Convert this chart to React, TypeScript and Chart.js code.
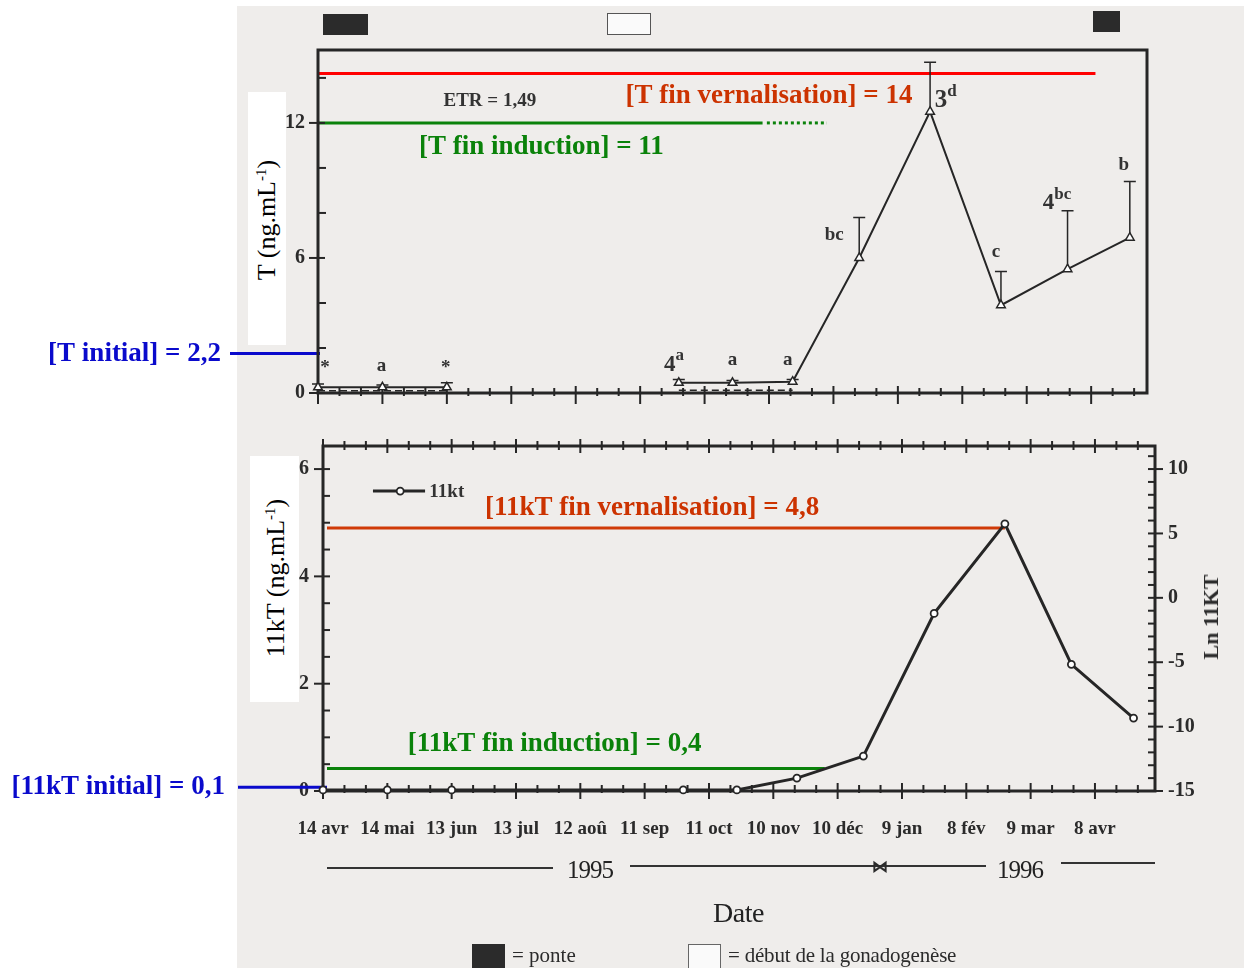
import React, { useEffect, useRef } from 'react';
import { Chart, registerables } from 'chart.js';

Chart.register(...registerables);

// ---------- data ----------
// sampling dates, in days after 14 avr 1995
const SAMPLE_DAYS = [0, 30, 60, 168, 193, 221, 252, 285, 318, 349, 378];
// testosterone, ng/mL (mean) and upper error
const T_MEAN = [0.25, 0.25, 0.25, 0.45, 0.45, 0.5, 6.0, 12.5, 3.9, 5.5, 6.9];
const T_ERR = [0.15, 0.1, 0.2, 0.15, 0.1, 0.1, 1.8, 2.2, 1.5, 2.6, 2.5];
const T_SECOND = [0.1, 0.1, 0.1, 0.12, 0.12, 0.12, null, null, null, null, null];
const T_LETTERS = ['*', 'a', '*', '4|a', 'a', 'a', 'bc', '3|d', 'c', '4|bc', 'b'];
// 11-ketotestosterone, ng/mL
const KT_VALUES = [0.02, 0.02, 0.02, 0.02, 0.02, 0.24, 0.65, 3.31, 4.98, 2.36, 1.36];

const MONTH_LABELS = ['14 avr', '14 mai', '13 jun', '13 jul', '12 aoû', '11 sep', '11 oct', '10 nov', '10 déc', '9 jan', '8 fév', '9 mar', '8 avr'];
const MONTH_STEP = 30;
const T_TICKS = [0, 6, 12];
const KT_TICKS = [0, 2, 4, 6];
const LN_TICKS = [-15, -10, -5, 0, 5, 10];

// reference lines (as drawn) and their labels
const T_REF_VALUES = { vern: 14.2, induc: 12, initial: 1.75 };
const T_REF_TEXT = { vern: '[T fin vernalisation] = 14', induc: '[T fin induction] = 11', initial: '[T initial] = 2,2', etr: 'ETR = 1,49' };
const KT_REF_VALUES = { vern: 4.9, induc: 0.42, initial: 0.07 };
const KT_REF_TEXT = { vern: '[11kT fin vernalisation] = 4,8', induc: '[11kT fin induction] = 0,4', initial: '[11kT initial] = 0,1' };

// ---------- styles ----------
const INK = '#262626';
const RED = '#ff0000';
const ORANGE = '#cc3300';
const ORANGE_LINE = '#d03a08';
const GREEN = '#0a820a';
const BLUE = '#0a0acc';
const SERIF = '"Liberation Serif", "Times New Roman", serif';
const NOTE_FONT = `bold 27px ${SERIF}`;
const LETTER_OFFSETS = [[7, -19], [-1, -21], [-1, -19], [-9, -20], [0, -23], [-5, -22], [-25, -23], [11, -13], [-5, -53], [-19, -68], [-6, -73]];

function range(a: number, b: number, s: number) {
  const out: number[] = [];
  for (let v = a; v <= b + 1e-9; v += s) out.push(Math.round(v * 1000) / 1000);
  return out;
}

function ticks(ctx: CanvasRenderingContext2D, scale: any, values: number[], horizontal: boolean, base: number, from: number, to: number) {
  values.forEach((v) => {
    const p = scale.getPixelForValue(v);
    ctx.beginPath();
    if (horizontal) {
      ctx.moveTo(p, base + from);
      ctx.lineTo(p, base + to);
    } else {
      ctx.moveTo(base + from, p);
      ctx.lineTo(base + to, p);
    }
    ctx.stroke();
  });
}

function hline(ctx: CanvasRenderingContext2D, x1: number, x2: number, y: number, color: string, w: number, dash: number[] = []) {
  ctx.save();
  ctx.strokeStyle = color;
  ctx.lineWidth = w;
  ctx.setLineDash(dash);
  ctx.beginPath();
  ctx.moveTo(x1, y);
  ctx.lineTo(x2, y);
  ctx.stroke();
  ctx.restore();
}

function text(ctx: CanvasRenderingContext2D, s: string, x: number, y: number, font: string, color: string, align: CanvasTextAlign = 'center') {
  ctx.save();
  ctx.font = font;
  ctx.fillStyle = color;
  ctx.textAlign = align;
  ctx.textBaseline = 'middle';
  ctx.fillText(s, x, y);
  ctx.restore();
}

const topPlugin = {
  id: 'topDecor',
  beforeDatasetsDraw(chart: any) {
    const { ctx, chartArea: ca, scales } = chart;
    const x = scales.x, y = scales.y;
    // reference lines
    hline(ctx, ca.left, x.getPixelForValue(362), y.getPixelForValue(T_REF_VALUES.vern), RED, 3);
    hline(ctx, ca.left, x.getPixelForValue(207), y.getPixelForValue(T_REF_VALUES.induc), GREEN, 3);
    hline(ctx, x.getPixelForValue(209), x.getPixelForValue(237), y.getPixelForValue(T_REF_VALUES.induc), GREEN, 3, [3, 3]);
    hline(ctx, ca.left - 88, ca.left + 2, y.getPixelForValue(T_REF_VALUES.initial), BLUE, 3);
    // frame
    ctx.save();
    ctx.strokeStyle = INK;
    ctx.lineWidth = 3;
    ctx.strokeRect(ca.left, ca.top, ca.right - ca.left, ca.bottom - ca.top);
    ctx.lineWidth = 2;
    const xMajor = range(0, 360, MONTH_STEP);
    const xMinor = range(0, 386, 10).filter((v) => v % MONTH_STEP !== 0);
    ticks(ctx, x, xMajor, true, ca.bottom, -7, 11);
    ticks(ctx, x, xMinor, true, ca.bottom, -5, 3);
    const yAll = range(0, 14, 2);
    ticks(ctx, y, yAll.filter((v) => T_TICKS.includes(v)), false, ca.left, -9, 7);
    ticks(ctx, y, yAll.filter((v) => !T_TICKS.includes(v)), false, ca.left, 0, 8);
    // error bars
    ctx.lineWidth = 1.5;
    SAMPLE_DAYS.forEach((d, i) => {
      const px = x.getPixelForValue(d);
      const y0 = y.getPixelForValue(T_MEAN[i]);
      const y1 = y.getPixelForValue(T_MEAN[i] + T_ERR[i]);
      ctx.beginPath();
      ctx.moveTo(px, y0);
      ctx.lineTo(px, y1);
      ctx.moveTo(px - 6, y1);
      ctx.lineTo(px + 6, y1);
      ctx.stroke();
    });
    ctx.restore();
  },
  afterDatasetsDraw(chart: any) {
    const { ctx, chartArea: ca, scales } = chart;
    const x = scales.x, y = scales.y;
    text(ctx, T_REF_TEXT.etr, x.getPixelForValue(80), y.getPixelForValue(12.95), `bold 19px ${SERIF}`, '#333');
    text(ctx, T_REF_TEXT.vern, x.getPixelForValue(210), y.getPixelForValue(13.2), NOTE_FONT, ORANGE);
    text(ctx, T_REF_TEXT.induc, x.getPixelForValue(104), y.getPixelForValue(10.94), NOTE_FONT, GREEN);
    text(ctx, T_REF_TEXT.initial, ca.left - 97, y.getPixelForValue(T_REF_VALUES.initial), NOTE_FONT, BLUE, 'right');
    // significance letters
    SAMPLE_DAYS.forEach((d, i) => {
      const [dx, dy] = LETTER_OFFSETS[i];
      const px = x.getPixelForValue(d) + dx;
      const py = y.getPixelForValue(T_MEAN[i]) + dy;
      const parts = T_LETTERS[i].split('|');
      if (parts.length === 1) {
        text(ctx, parts[0], px, py, `bold 19px ${SERIF}`, '#333');
      } else {
        const big = parts[0] === '3' ? 25 : 23;
        ctx.save();
        ctx.font = `bold ${big}px ${SERIF}`;
        const w = ctx.measureText(parts[0]).width;
        ctx.restore();
        text(ctx, parts[0], px, py + 2, `bold ${big}px ${SERIF}`, '#333');
        text(ctx, parts[1], px + w / 2, py - 7, `bold 17px ${SERIF}`, '#333', 'left');
      }
    });
  },
};

const botPlugin = {
  id: 'botDecor',
  beforeDatasetsDraw(chart: any) {
    const { ctx, chartArea: ca, scales } = chart;
    const x = scales.x, y = scales.y, y2 = scales.y2;
    hline(ctx, ca.left + 4, x.getPixelForValue(318), y.getPixelForValue(KT_REF_VALUES.vern), ORANGE_LINE, 3);
    hline(ctx, ca.left + 4, x.getPixelForValue(234), y.getPixelForValue(KT_REF_VALUES.induc), GREEN, 3);
    hline(ctx, ca.left - 85, ca.left + 4, y.getPixelForValue(KT_REF_VALUES.initial), BLUE, 3);
    ctx.save();
    ctx.strokeStyle = INK;
    ctx.lineWidth = 3;
    ctx.strokeRect(ca.left, ca.top, ca.right - ca.left, ca.bottom - ca.top);
    ctx.lineWidth = 2;
    const xMajor = range(0, 360, MONTH_STEP);
    const xMinor = range(0, 388, 10).filter((v) => v % MONTH_STEP !== 0);
    ticks(ctx, x, xMajor, true, ca.bottom, -8, 8);
    ticks(ctx, x, xMinor, true, ca.bottom, -6, 2);
    ticks(ctx, x, xMajor, true, ca.top, -7, 7);
    ticks(ctx, x, xMinor, true, ca.top, -5, 4);
    const yAll = range(0, 6, 0.5);
    ticks(ctx, y, yAll.filter((v) => KT_TICKS.includes(v)), false, ca.left, -9, 7);
    ticks(ctx, y, yAll.filter((v) => !KT_TICKS.includes(v)), false, ca.left, -1, 7);
    const lnAll = range(-15, 11, 1);
    ticks(ctx, y2, lnAll.filter((v) => v % 5 === 0), false, ca.right, -7, 8);
    ticks(ctx, y2, lnAll.filter((v) => v % 5 !== 0), false, ca.right, -7, 1);
    ctx.restore();
  },
  afterDatasetsDraw(chart: any) {
    const { ctx, chartArea: ca, scales } = chart;
    const x = scales.x, y = scales.y;
    text(ctx, KT_REF_TEXT.vern, x.getPixelForValue(153.5), y.getPixelForValue(5.28), NOTE_FONT, ORANGE);
    text(ctx, KT_REF_TEXT.induc, x.getPixelForValue(108), y.getPixelForValue(0.87), NOTE_FONT, GREEN);
    text(ctx, KT_REF_TEXT.initial, ca.left - 98, y.getPixelForValue(KT_REF_VALUES.initial), NOTE_FONT, BLUE, 'right');
    // legend
    const ly = y.getPixelForValue(5.59);
    hline(ctx, x.getPixelForValue(23.3), x.getPixelForValue(47.6), ly, INK, 3);
    ctx.save();
    ctx.beginPath();
    ctx.arc(x.getPixelForValue(36), ly, 3.5, 0, Math.PI * 2);
    ctx.fillStyle = '#fff';
    ctx.fill();
    ctx.strokeStyle = INK;
    ctx.lineWidth = 1.8;
    ctx.stroke();
    ctx.restore();
    text(ctx, '11kt', x.getPixelForValue(49.6), ly + 1, `bold 19px ${SERIF}`, '#333', 'left');
  },
};

function fixedWidth(w: number) {
  return (scale: any) => {
    scale.width = w;
  };
}
function fixedHeight(h: number) {
  return (scale: any) => {
    scale.height = h;
  };
}

const TICK_FONT = { family: SERIF, size: 20, weight: 'bold' as const };

export default function App() {
  const topRef = useRef<HTMLCanvasElement>(null);
  const botRef = useRef<HTMLCanvasElement>(null);

  useEffect(() => {
    document.body.style.margin = '0';
    document.body.style.overflow = 'hidden';
    const tPoints = SAMPLE_DAYS.map((d, i) => ({ x: d, y: T_MEAN[i] }));
    const tSecond = SAMPLE_DAYS.map((d, i) => ({ x: d, y: T_SECOND[i] }));
    const kPoints = SAMPLE_DAYS.map((d, i) => ({ x: d, y: KT_VALUES[i] }));

    const top = new Chart(topRef.current!, {
      type: 'line',
      data: {
        datasets: [
          {
            data: tSecond as any,
            borderColor: INK,
            borderWidth: 1.5,
            borderDash: [7, 4],
            pointRadius: 0,
            spanGaps: false,
            clip: false as any,
            segment: { borderColor: (c: any) => (c.p0DataIndex === 2 ? 'rgba(0,0,0,0)' : INK) },
          },
          {
            data: tPoints,
            borderColor: INK,
            borderWidth: 2,
            pointStyle: 'triangle',
            pointRadius: 5,
            pointBackgroundColor: '#fff',
            pointBorderColor: INK,
            pointBorderWidth: 1.5,
            clip: false as any,
            segment: { borderColor: (c: any) => (c.p0DataIndex === 2 ? 'rgba(0,0,0,0)' : INK) },
          },
        ],
      },
      options: {
        animation: false,
        responsive: false,
        events: [],
        layout: { padding: { left: 258, right: 97, top: 50, bottom: 0 } },
        plugins: { legend: { display: false }, tooltip: { enabled: false } },
        scales: {
          x: {
            type: 'linear',
            min: 0,
            max: 386,
            grid: { display: false, drawTicks: false },
            border: { display: false },
            ticks: { display: false },
            afterFit: fixedHeight(27),
          },
          y: {
            type: 'linear',
            min: 0,
            max: 15.24,
            grid: { display: false, drawTicks: false },
            border: { display: false },
            ticks: { color: '#2b2b2b', font: TICK_FONT, padding: 13 },
            afterBuildTicks: (s: any) => {
              s.ticks = T_TICKS.map((v) => ({ value: v }));
            },
            afterFit: fixedWidth(60),
          },
        },
      },
      plugins: [topPlugin],
    });

    const bot = new Chart(botRef.current!, {
      type: 'line',
      data: {
        datasets: [
          {
            data: kPoints,
            borderColor: INK,
            borderWidth: 3,
            pointStyle: 'circle',
            pointRadius: 3.5,
            pointBackgroundColor: '#fff',
            pointBorderColor: INK,
            pointBorderWidth: 1.8,
            clip: false as any,
            yAxisID: 'y',
          },
        ],
      },
      options: {
        animation: false,
        responsive: false,
        events: [],
        layout: { padding: { left: 263, right: 29, top: 25, bottom: 107 } },
        plugins: { legend: { display: false }, tooltip: { enabled: false } },
        scales: {
          x: {
            type: 'linear',
            min: 0,
            max: 388,
            grid: { display: false, drawTicks: false },
            border: { display: false },
            ticks: {
              color: '#2b2b2b',
              font: { family: SERIF, size: 19, weight: 'bold' },
              padding: 27,
              maxRotation: 0,
              autoSkip: false,
              callback: (v: any) => MONTH_LABELS[Math.round(Number(v) / MONTH_STEP)] ?? '',
            },
            afterBuildTicks: (s: any) => {
              s.ticks = MONTH_LABELS.map((_, i) => ({ value: i * MONTH_STEP }));
            },
            afterFit: fixedHeight(70),
          },
          y: {
            type: 'linear',
            position: 'left',
            min: 0,
            max: 6.43,
            grid: { display: false, drawTicks: false },
            border: { display: false },
            ticks: { color: '#2b2b2b', font: TICK_FONT, padding: 14 },
            afterBuildTicks: (s: any) => {
              s.ticks = KT_TICKS.map((v) => ({ value: v }));
            },
            afterFit: fixedWidth(60),
          },
          y2: {
            type: 'linear',
            position: 'right',
            min: -15,
            max: 11.79,
            grid: { display: false, drawTicks: false },
            border: { display: false },
            ticks: { color: '#2b2b2b', font: TICK_FONT, padding: 13 },
            afterBuildTicks: (s: any) => {
              s.ticks = LN_TICKS.map((v) => ({ value: v }));
            },
            afterFit: fixedWidth(60),
          },
        },
      },
      plugins: [botPlugin],
    });

    return () => {
      top.destroy();
      bot.destroy();
    };
  }, []);

  const abs = (s: React.CSSProperties): React.CSSProperties => ({ position: 'absolute', ...s });
  const vtext = (cx: number, cy: number, s: React.CSSProperties): React.CSSProperties => ({
    position: 'absolute',
    left: cx,
    top: cy,
    transform: 'translate(-50%, -50%) rotate(-90deg)',
    whiteSpace: 'nowrap',
    lineHeight: 1,
    ...s,
  });

  return (
    <div style={{ position: 'relative', width: 1244, height: 968, overflow: 'hidden', background: '#fff', fontFamily: SERIF, color: '#2b2b2b' }}>
      <div style={abs({ left: 237, top: 6, width: 1007, height: 962, background: '#efedeb' })} />
      {/* top legend marks */}
      <div style={abs({ left: 323, top: 14, width: 45, height: 21, background: '#2b2b2b' })} />
      <div style={abs({ left: 607, top: 13, width: 42, height: 20, background: '#fafafa', border: '1px solid #555' })} />
      <div style={abs({ left: 1093, top: 11, width: 27, height: 21, background: '#2b2b2b' })} />

      <canvas ref={topRef} width={1244} height={420} style={abs({ left: 0, top: 0 })} />
      <canvas ref={botRef} width={1244} height={548} style={abs({ left: 0, top: 420 })} />

      {/* axis titles in pasted white boxes */}
      <div style={abs({ left: 248, top: 92, width: 38, height: 253, background: '#fff' })} />
      <div style={vtext(267, 220, { fontSize: 26, color: '#000' })}>
        T (ng.mL<sup style={{ fontSize: 15 }}>-1</sup>)
      </div>
      <div style={abs({ left: 250, top: 456, width: 49, height: 246, background: '#fff' })} />
      <div style={vtext(276, 578, { fontSize: 26, color: '#000' })}>
        11kT (ng.mL<sup style={{ fontSize: 15 }}>-1</sup>)
      </div>
      <div style={vtext(1211, 617, { fontSize: 22, fontWeight: 'bold', color: '#2b2b2b' })}>Ln 11KT</div>

      {/* year bar */}
      <div style={abs({ left: 327, top: 867, width: 226, height: 2, background: '#333' })} />
      <div style={abs({ left: 567, top: 856, fontSize: 25, letterSpacing: -1, lineHeight: '28px', color: '#222' })}>1995</div>
      <div style={abs({ left: 630, top: 865, width: 356, height: 2, background: '#333' })} />
      <div style={abs({ left: 872, top: 860, fontSize: 16, fontWeight: 'bold', lineHeight: '14px' })}>⋈</div>
      <div style={abs({ left: 997, top: 856, fontSize: 25, letterSpacing: -1, lineHeight: '28px', color: '#222' })}>1996</div>
      <div style={abs({ left: 1061, top: 862, width: 94, height: 2, background: '#333' })} />
      <div style={abs({ left: 713, top: 898, fontSize: 28, letterSpacing: -0.5, lineHeight: '30px', color: '#222' })}>Date</div>

      {/* bottom legend */}
      <div style={abs({ left: 472, top: 944, width: 33, height: 24, background: '#2b2b2b' })} />
      <div style={abs({ left: 512, top: 942, fontSize: 21, lineHeight: '26px' })}>= ponte</div>
      <div style={abs({ left: 688, top: 944, width: 31, height: 24, background: '#fafafa', border: '1px solid #666' })} />
      <div style={abs({ left: 728, top: 942, fontSize: 21, lineHeight: '26px', letterSpacing: -0.2 })}>= début de la gonadogenèse</div>
    </div>
  );
}
